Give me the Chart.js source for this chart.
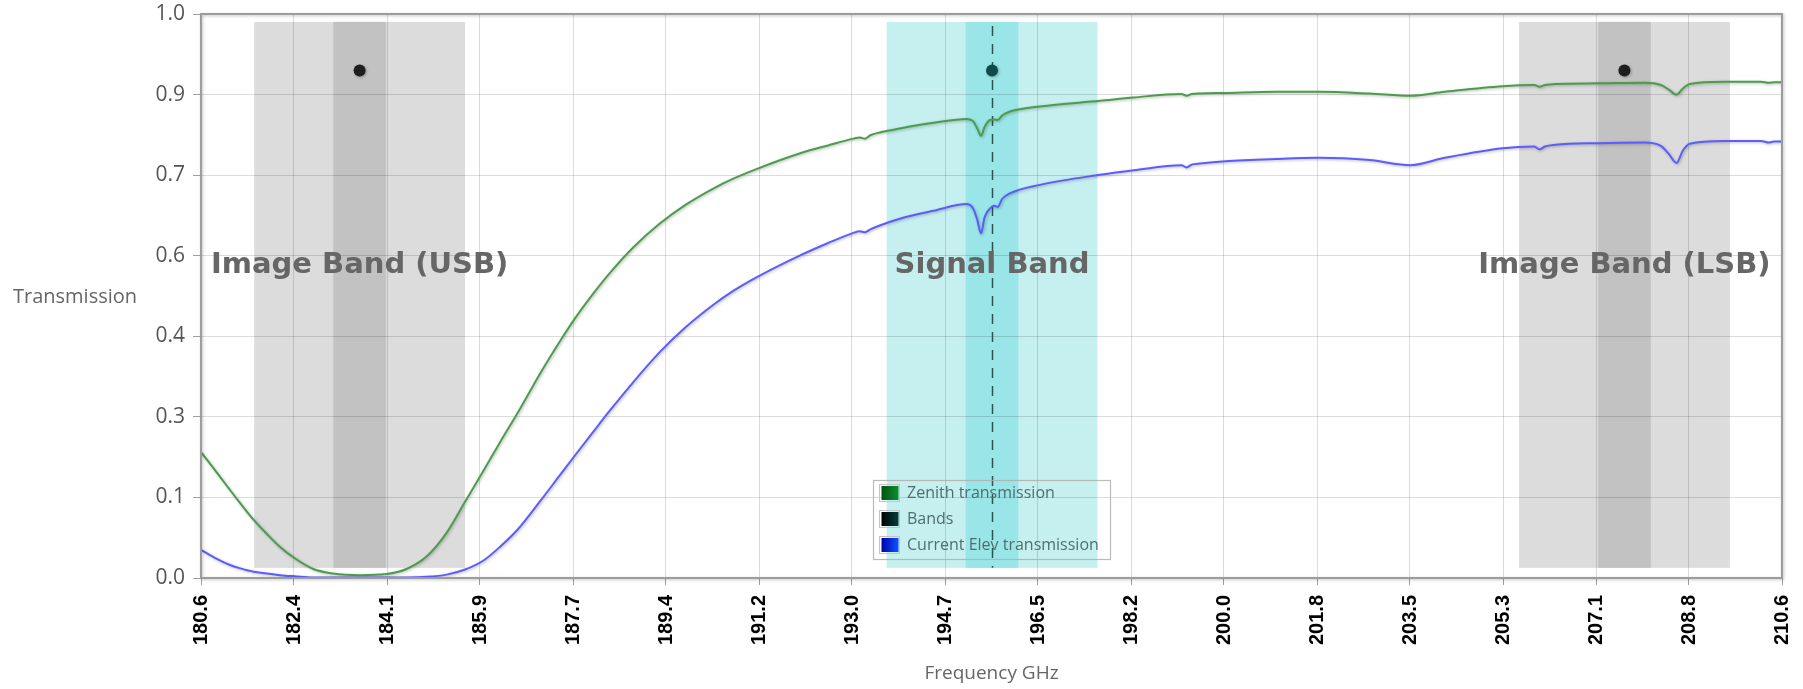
<!DOCTYPE html>
<html>
<head>
<meta charset="utf-8">
<title>Atmospheric transmission</title>
<script src="https://cdn.jsdelivr.net/npm/chart.js@4.4.1/dist/chart.umd.min.js"></script>
<style>
  html, body { margin: 0; padding: 0; background: #fff; }
  #wrap { width: 1803px; height: 689px; }
</style>
</head>
<body>
<div id="wrap"><canvas id="transChart" width="1803" height="689"></canvas></div>
<script>
// frequency axis range (GHz) and tick labels
const X_MIN = 180.6;
const X_MAX = 210.6;
const xTickLabels = ['180.6', '182.4', '184.1', '185.9', '187.7', '189.4', '191.2', '193.0', '194.7',
  '196.5', '198.2', '200.0', '201.8', '203.5', '205.3', '207.1', '208.8', '210.6'];
const yTickLabels = ['0.0', '0.1', '0.3', '0.4', '0.6', '0.7', '0.9', '1.0'];

// transmission curves sampled on a common frequency grid
const freqGHz = [
  180.60, 180.90, 181.15, 181.35, 181.60, 181.85, 182.10, 182.38, 182.73, 183.10,
  183.62, 184.12, 184.50, 184.88, 185.26, 185.61, 185.96, 186.27, 186.61, 187.05,
  187.40, 187.71, 188.05, 188.36, 188.80, 189.30, 189.80, 190.33, 190.70, 191.14,
  191.97, 192.50, 192.98, 193.10, 193.20, 193.30, 193.48, 193.86, 194.50, 195.13,
  195.25, 195.33, 195.40, 195.47, 195.57, 195.65, 195.72, 195.80, 195.95, 196.52,
  197.66, 198.30, 199.20, 199.30, 199.40, 199.56, 200.04, 201.00, 201.80, 202.77,
  203.55, 204.20, 205.30, 205.90, 206.00, 206.10, 206.30, 207.10, 208.00, 208.30,
  208.45, 208.60, 208.72, 208.85, 209.50, 210.20, 210.35, 210.45, 210.60
];
const zenithTrans = [
  0.223, 0.187, 0.156, 0.132, 0.103, 0.078, 0.055, 0.035, 0.016, 0.008,
  0.005, 0.007, 0.016, 0.038, 0.080, 0.135, 0.190, 0.240, 0.293, 0.365,
  0.418, 0.462, 0.505, 0.541, 0.586, 0.628, 0.662, 0.691, 0.708, 0.725,
  0.753, 0.767, 0.779, 0.781, 0.779, 0.785, 0.790, 0.797, 0.807, 0.814,
  0.810, 0.797, 0.784, 0.800, 0.812, 0.813, 0.812, 0.820, 0.827, 0.836,
  0.846, 0.852, 0.858, 0.855, 0.858, 0.859, 0.860, 0.862, 0.862, 0.859,
  0.855, 0.862, 0.872, 0.874, 0.871, 0.874, 0.876, 0.877, 0.878, 0.874,
  0.866, 0.857, 0.868, 0.876, 0.880, 0.880, 0.878, 0.879, 0.879
];
const elevTrans = [
  0.050, 0.034, 0.023, 0.017, 0.011, 0.008, 0.005, 0.003, 0.001, 0.001,
  0.001, 0.001, 0.001, 0.002, 0.006, 0.015, 0.031, 0.055, 0.086, 0.138,
  0.181, 0.219, 0.260, 0.297, 0.347, 0.400, 0.445, 0.485, 0.509, 0.533,
  0.572, 0.594, 0.612, 0.615, 0.613, 0.618, 0.625, 0.637, 0.651, 0.663,
  0.655, 0.635, 0.611, 0.640, 0.655, 0.660, 0.658, 0.672, 0.682, 0.697,
  0.715, 0.723, 0.732, 0.728, 0.733, 0.735, 0.739, 0.743, 0.745, 0.741,
  0.732, 0.745, 0.762, 0.765, 0.760, 0.765, 0.768, 0.771, 0.772, 0.766,
  0.752, 0.736, 0.758, 0.770, 0.775, 0.775, 0.772, 0.774, 0.774
];

// receiver bands: centre frequency, full widths (GHz) and marker level
const bandNames = ['Image Band (USB)', 'Signal Band', 'Image Band (LSB)'];
const bandCenters = [183.61, 195.61, 207.61];
const bandOuterWidth = [4, 4, 4];
const bandInnerWidth = [1, 1, 1];
const bandMarkerLevel = [0.9, 0.9, 0.9];
const bandSpan = [0.018, 0.986];
const bandLabelLevel = 0.541;

const bandStyle = {
  outer: ['#dcdcdc', '#c6efef', '#dcdcdc'],
  inner: ['#c2c2c2', '#9ae5e7', '#c2c2c2'],
  marker: ['#1e1e1e', '#0b4b49', '#1e1e1e']
};

const legendSwatches = [
  ['#00520e', '#0c8c30'],
  ['#000000', '#063c3c'],
  ['#0000a8', '#1050ff']
];

const bandsPlugin = {
  id: 'bands',
  beforeDraw(chart) {
    const { ctx, scales: { x, y } } = chart;
    const top = y.getPixelForValue(bandSpan[1]);
    const bottom = y.getPixelForValue(bandSpan[0]);
    ctx.save();
    bandCenters.forEach((c, i) => {
      const ol = x.getPixelForValue(c - bandOuterWidth[i] / 2);
      const or = x.getPixelForValue(c + bandOuterWidth[i] / 2);
      ctx.fillStyle = bandStyle.outer[i];
      ctx.fillRect(ol, top, or - ol, bottom - top);
      const il = x.getPixelForValue(c - bandInnerWidth[i] / 2);
      const ir = x.getPixelForValue(c + bandInnerWidth[i] / 2);
      ctx.fillStyle = bandStyle.inner[i];
      ctx.fillRect(il, top, ir - il, bottom - top);
    });
    ctx.restore();
  },
  beforeDatasetsDraw(chart) {
    const { ctx, scales: { x, y } } = chart;
    ctx.save();
    // dashed marker through the signal band centre
    const sx = Math.round(x.getPixelForValue(bandCenters[1])) + 0.5;
    ctx.strokeStyle = '#2b5656';
    ctx.lineWidth = 1.5;
    ctx.setLineDash([10, 8]);
    ctx.beginPath();
    ctx.moveTo(sx, y.getPixelForValue(bandSpan[1]) + 4);
    ctx.lineTo(sx, y.getPixelForValue(bandSpan[0]));
    ctx.stroke();
    ctx.setLineDash([]);
    // band names
    ctx.font = 'bold 29px "DejaVu Sans", Verdana, sans-serif';
    ctx.fillStyle = '#666666';
    ctx.textAlign = 'center';
    ctx.textBaseline = 'alphabetic';
    bandNames.forEach((name, i) => {
      ctx.fillText(name, x.getPixelForValue(bandCenters[i]), y.getPixelForValue(bandLabelLevel));
    });
    ctx.restore();
  }
};

// soft shadow under the curves and markers
const shadowPlugin = {
  id: 'lineShadow',
  beforeDatasetDraw(chart) {
    const ctx = chart.ctx;
    ctx.save();
    ctx.shadowColor = 'rgba(0,0,0,0.28)';
    ctx.shadowBlur = 3;
    ctx.shadowOffsetX = 1;
    ctx.shadowOffsetY = 1;
  },
  afterDatasetDraw(chart) {
    chart.ctx.restore();
  }
};

const frameAndLegendPlugin = {
  id: 'frameLegend',
  afterDraw(chart) {
    const { ctx, chartArea: a } = chart;
    ctx.save();
    ctx.shadowColor = 'rgba(0,0,0,0.25)';
    ctx.shadowBlur = 3;
    ctx.shadowOffsetX = 1;
    ctx.shadowOffsetY = 1;
    ctx.strokeStyle = '#9c9c9c';
    ctx.lineWidth = 2;
    ctx.strokeRect(a.left, a.top, a.right - a.left, a.bottom - a.top);
    ctx.restore();

    // horizontal y-axis title
    ctx.save();
    ctx.font = '20px "Open Sans", sans-serif';
    ctx.fillStyle = '#666666';
    ctx.textAlign = 'left';
    ctx.textBaseline = 'middle';
    ctx.fillText('Transmission', 13, (a.top + a.bottom) / 2 + 1);
    ctx.restore();

    // legend box
    const box = { left: 873.5, top: 480.5, width: 237, height: 79, row: 26 };
    ctx.save();
    ctx.strokeStyle = 'rgba(175,175,175,0.85)';
    ctx.lineWidth = 1.2;
    ctx.strokeRect(box.left, box.top, box.width, box.height);
    ctx.font = '16px "Open Sans", sans-serif';
    ctx.textAlign = 'left';
    ctx.textBaseline = 'middle';
    chart.data.datasets.forEach((ds, i) => {
      const y0 = 484 + i * box.row;
      ctx.strokeStyle = '#c4c4c4';
      ctx.lineWidth = 1;
      ctx.strokeRect(879.5, y0 + 0.5, 20, 17);
      const g = ctx.createLinearGradient(881, 0, 898, 0);
      g.addColorStop(0, legendSwatches[i][0]);
      g.addColorStop(1, legendSwatches[i][1]);
      ctx.fillStyle = g;
      ctx.fillRect(881.5, y0 + 2, 17, 14);
      ctx.fillStyle = '#4f6f6f';
      ctx.fillText(ds.label, 907, y0 + 9.5);
    });
    ctx.restore();
  }
};

const ctx = document.getElementById('transChart').getContext('2d');

new Chart(ctx, {
  type: 'line',
  data: {
    datasets: [
      {
        label: 'Zenith transmission',
        data: freqGHz.map((f, i) => ({ x: f, y: zenithTrans[i] })),
        borderColor: '#4c9c4c',
        borderWidth: 2,
        pointRadius: 0,
        cubicInterpolationMode: 'monotone',
        fill: false
      },
      {
        label: 'Bands',
        type: 'scatter',
        data: bandCenters.map((c, i) => ({ x: c, y: bandMarkerLevel[i] })),
        pointRadius: 6,
        pointBorderWidth: 0,
        pointBackgroundColor: bandStyle.marker,
        showLine: false
      },
      {
        label: 'Current Elev transmission',
        data: freqGHz.map((f, i) => ({ x: f, y: elevTrans[i] })),
        borderColor: '#5c5cff',
        borderWidth: 2,
        pointRadius: 0,
        cubicInterpolationMode: 'monotone',
        fill: false
      }
    ]
  },
  options: {
    responsive: false,
    animation: false,
    layout: { padding: { top: 14, right: 21, left: 0, bottom: 0 } },
    plugins: {
      legend: { display: false },
      tooltip: { enabled: false }
    },
    scales: {
      x: {
        type: 'linear',
        min: X_MIN,
        max: X_MAX,
        afterBuildTicks: s => {
          const n = xTickLabels.length - 1;
          s.ticks = xTickLabels.map((_, i) => ({ value: X_MIN + i * (X_MAX - X_MIN) / n }));
        },
        afterFit: s => { s.height = 111; s.paddingLeft = 0; s.paddingRight = 0; },
        ticks: {
          autoSkip: false,
          maxRotation: 90,
          minRotation: 90,
          padding: 10,
          color: '#000',
          font: { family: '"Liberation Sans", Arial, sans-serif', size: 20, weight: 'bold' },
          callback: (v, i) => xTickLabels[i]
        },
        grid: { color: 'rgba(0,0,0,0.14)', tickColor: '#a0a0a0', tickLength: 7 },
        border: { display: false },
        title: {
          display: true,
          text: 'Frequency GHz',
          color: '#666666',
          font: { family: '"Open Sans", sans-serif', size: 19 },
          padding: { top: 0, bottom: 4 }
        }
      },
      y: {
        min: 0,
        max: 1,
        afterBuildTicks: s => {
          const n = yTickLabels.length - 1;
          s.ticks = yTickLabels.map((_, i) => ({ value: i / n }));
        },
        afterFit: s => { s.width = 201; s.paddingTop = 0; s.paddingBottom = 0; },
        ticks: {
          padding: 8,
          color: '#555555',
          font: { family: '"Open Sans", sans-serif', size: 21 },
          callback: (v, i) => yTickLabels[i]
        },
        grid: { color: 'rgba(0,0,0,0.14)', tickColor: '#a0a0a0', tickLength: 8 },
        border: { display: false }
      }
    }
  },
  plugins: [bandsPlugin, shadowPlugin, frameAndLegendPlugin]
});
</script>
</body>
</html>
